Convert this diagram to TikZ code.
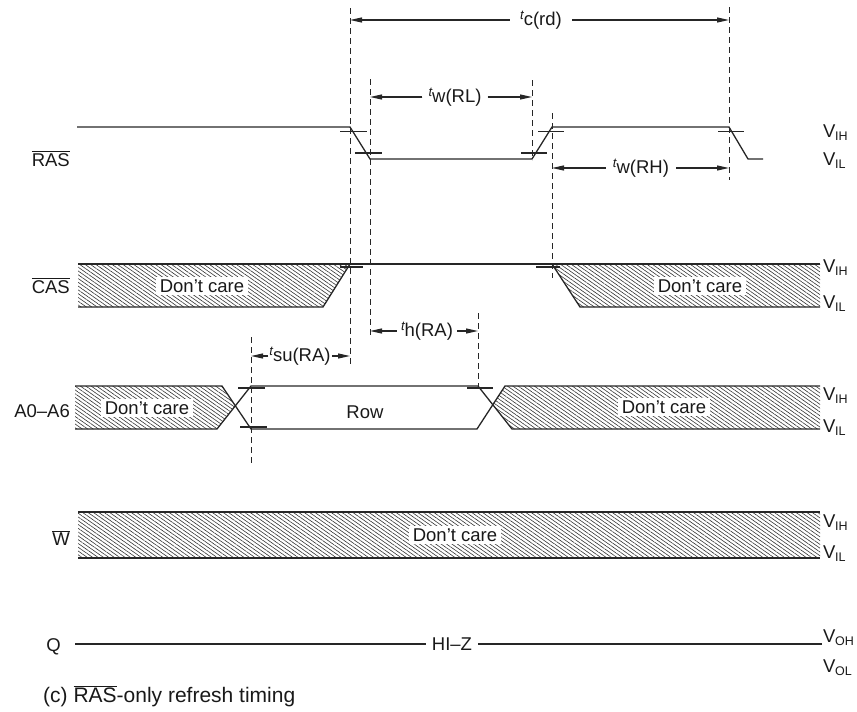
\documentclass[tikz,border=0pt]{standalone}
\usepackage{fontspec}
\setmainfont{Liberation Sans}
\usetikzlibrary{patterns.meta,arrows.meta}
\newcommand{\ovl}[1]{\ensuremath{\overline{\mbox{#1}}}}
\newcommand{\tlab}[1]{\raisebox{5.5pt}{\fontsize{13}{13}\selectfont\itshape t}#1}
\newcommand{\vsub}[1]{V\kern-0.3pt\raisebox{-3.5pt}{\fontsize{12.5}{12.5}\selectfont #1}}
\begin{document}
\begin{tikzpicture}[x=1pt,y=-1pt,
  sig/.style={line width=1.3pt, draw=black!85, line join=miter},
  tickmark/.style={line width=1.1pt, draw=black!85},
  guide/.style={line width=1pt, dash pattern=on 6pt off 4pt, draw=black!85},
  hatch/.style={pattern={Lines[angle=-35,distance=3.1pt,line width=0.6pt]}, pattern color=black!80},
  txt/.style={font=\fontsize{18.5}{22}\selectfont, text=black!90, inner sep=0pt},
  dc/.style={txt, fill=white, inner xsep=4pt, inner ysep=3pt},
  tm/.style={txt, inner xsep=5pt},
  dimarrow/.style={line width=1.1pt, -{Triangle[length=12pt,width=5pt]}, draw=black!85, fill=black!85},
  lvl/.style={font=\fontsize{18.5}{20}\selectfont, text=black!90, anchor=base west, inner sep=0pt},
  sigl/.style={txt, anchor=base east},
]
\useasboundingbox (0,0) rectangle (857,712);

% ---------- guides (dashed verticals) ----------
\draw[guide] (350,8) -- (350,367);
\draw[guide] (370,79) -- (370,338);
\draw[guide] (532,80) -- (532,160);
\draw[guide] (552,113) -- (552,278);
\draw[guide] (729,7) -- (729,180);
\draw[guide] (251,337) -- (251,466);
\draw[guide] (478,313) -- (478,388);

% ---------- RAS ----------
\draw[sig] (77,127) -- (350,127) -- (370,159) -- (532,159) -- (552,127) -- (729,127) -- (748,159) -- (763,159);
\draw[tickmark] (340,131.5) -- (367,131.5);
\draw[tickmark] (355,153) -- (382,153);
\draw[tickmark] (521,153) -- (547,153);
\draw[tickmark] (538,131.5) -- (564,131.5);
\draw[tickmark] (718,131.5) -- (744,131.5);

% ---------- CAS ----------
\fill[hatch] (78,264) -- (350,264) -- (323,307) -- (78,307) -- cycle;
\draw[sig] (78,264) -- (552,264);
\draw[sig] (78,307) -- (323,307) -- (350,264);
\fill[hatch] (552,264) -- (820,264) -- (820,307) -- (580,307) -- cycle;
\draw[sig] (552,264) -- (820,264);
\draw[sig] (552,264) -- (580,307) -- (820,307);
\draw[tickmark] (340,267) -- (363,267);
\draw[tickmark] (536,267) -- (560,267);

% ---------- A0-A6 ----------
\fill[hatch] (75,386) -- (222,386) -- (235.3,405.8) -- (217,429) -- (75,429) -- cycle;
\fill[hatch] (492.8,404.7) -- (505,386) -- (820,386) -- (820,429) -- (512,429) -- cycle;
\draw[sig] (75,386) -- (222,386) -- (251,429) -- (477,429) -- (505,386) -- (820,386);
\draw[sig] (75,429) -- (217,429) -- (251,386) -- (478,386) -- (512,429) -- (820,429);
\draw[tickmark] (238,388) -- (265,388);
\draw[tickmark] (240,427) -- (267,427);
\draw[tickmark] (467,388) -- (493,388);

% ---------- W ----------
\fill[hatch] (78,512) rectangle (820,558);
\draw[sig] (78,512) -- (820,512);
\draw[sig] (78,558) -- (820,558);

% ---------- labels in the lanes ----------
\node[dc] (dc1) at (202,286) {Don’t care};
\node[dc] (dc2) at (700,286) {Don’t care};
\node[dc] (dc3) at (147,408) {Don’t care};
\node[dc] (dc4) at (664,407) {Don’t care};
\node[dc] (dc5) at (455,535) {Don’t care};
\node[txt] (row) at (365,412) {Row};

% ---------- Q ----------
\coordinate (q0) at (75,644);
\coordinate (q1) at (822,644);
\node[txt, inner xsep=6pt] (hiz) at (452,644) {HI–Z};
\draw[sig] (q0) -- (hiz.west);
\draw[sig] (hiz.east) -- (q1);

% ---------- timing dimensions ----------
\coordinate (tcA) at (350,20);  \coordinate (tcB) at (729,20);
\node[tm, inner xsep=10pt] (tc) at (541,20) {\tlab{c(rd)}};
\draw[dimarrow] (tc.west) -- (tcA);
\draw[dimarrow] (tc.east) -- (tcB);

\coordinate (rlA) at (370,97);  \coordinate (rlB) at (532,97);
\node[tm, inner xsep=6pt] (twrl) at (455,97) {\tlab{w(RL)}};
\draw[dimarrow] (twrl.west) -- (rlA);
\draw[dimarrow] (twrl.east) -- (rlB);

\coordinate (rhA) at (552,168);  \coordinate (rhB) at (729,168);
\node[tm, inner xsep=7pt] (twrh) at (641,168) {\tlab{w(RH)}};
\draw[dimarrow] (twrh.west) -- (rhA);
\draw[dimarrow] (twrh.east) -- (rhB);

\coordinate (hA) at (370,331);  \coordinate (hB) at (478,331);
\node[tm, inner xsep=4pt] (th) at (427,331) {\tlab{h(RA)}};
\draw[dimarrow] (th.west) -- (hA);
\draw[dimarrow] (th.east) -- (hB);

\coordinate (suA) at (251,356);  \coordinate (suB) at (350,356);
\node[tm, inner xsep=1pt] (tsu) at (300,356) {\tlab{su(RA)}};
\draw[dimarrow] (tsu.west) -- (suA);
\draw[dimarrow] (tsu.east) -- (suB);

% ---------- signal names ----------
\node[sigl] (nras) at (70,166) {\ovl{RAS}};
\node[sigl] (ncas) at (70,293) {\ovl{CAS}};
\node[sigl] (na) at (70,417) {A0–A6};
\node[sigl] (nw) at (70,545) {\ovl{W}};
\node[sigl] (nq) at (61,651) {Q};

% ---------- levels ----------
\node[lvl] (l1) at (823,137) {\vsub{IH}};
\node[lvl] (l2) at (823,165) {\vsub{IL}};
\node[lvl] (l3) at (823,272) {\vsub{IH}};
\node[lvl] (l4) at (823,308) {\vsub{IL}};
\node[lvl] (l5) at (823,400) {\vsub{IH}};
\node[lvl] (l6) at (823,432) {\vsub{IL}};
\node[lvl] (l7) at (823,527) {\vsub{IH}};
\node[lvl] (l8) at (823,558) {\vsub{IL}};
\node[lvl] (l9) at (823,642) {\vsub{OH}};
\node[lvl] (l10) at (823,672) {\vsub{OL}};

% ---------- caption ----------
\node[anchor=base west, font=\fontsize{21}{24}\selectfont, text=black!90, inner sep=0pt] (cap) at (43,702) {(c) \ovl{RAS}-only refresh timing};
\end{tikzpicture}
\end{document}
